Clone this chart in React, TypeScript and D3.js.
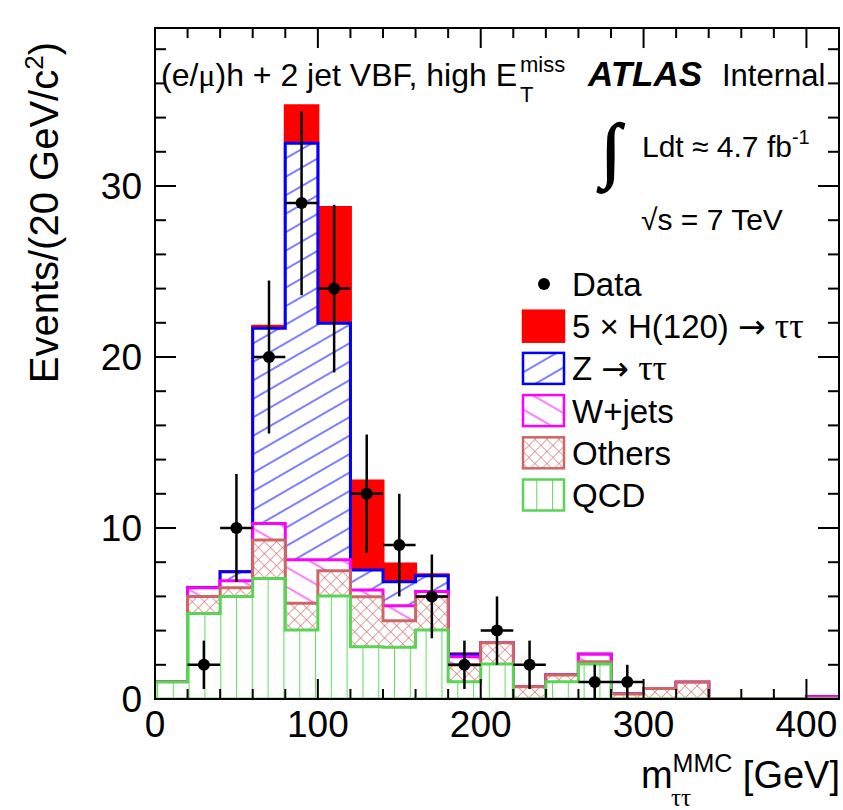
import React from 'react';
import * as d3 from 'd3';

// ---- data (20 GeV bins) ----
const BIN_LOW = [0, 20, 40, 60, 80, 100, 120, 140, 160, 180, 200, 220, 240, 260, 280, 300, 320, 340, 360, 380, 400];
const BIN_WIDTH = 20;
const QCD = [1.0, 5.0, 6.0, 7.05, 4.03, 6.02, 3.06, 3.02, 4.03, 1.01, 2.05, 0, 1.01, 2.05, 0, 0, 0, 0, 0, 0, 0];
const OTHERS = [0, 1.0, 0.5, 2.25, 1.57, 1.48, 2.92, 1.56, 1.95, 0.98, 1.24, 0.72, 0.39, 0.13, 0.29, 0.62, 0.98, 0, 0, 0, 0.05];
const WJETS = [0, 0.5, 0.42, 0.97, 2.55, 0.65, 0.39, 0.88, 0.3, 0.48, 0.01, 0, 0, 0.43, 0, 0, 0, 0, 0, 0, 0.08];
const ZTT = [0, 0, 0.52, 11.41, 24.35, 13.82, 1.17, 1.4, 0.93, 0.13, 0, 0, 0, 0, 0, 0, 0, 0, 0, 0, 0];
const HIGGS5 = [0, 0, 0, 0.12, 2.2, 6.78, 5.21, 1.04, 0.05, 0.05, 0, 0, 0, 0, 0, 0, 0, 0, 0, 0, 0];
const DATA = [0, 2, 10, 20, 29, 24, 12, 9, 6, 2, 4, 2, 0, 1, 1, 0, 0, 0, 0, 0, 0];
const X_MAJOR = [0, 100, 200, 300, 400];
const Y_MAJOR = [0, 10, 20, 30];

const W = 843, H = 810;
const FL = 155, FR = 839, FT = 28, FB = 699;
const x = d3.scaleLinear().domain([0, 420]).range([FL, FR]);
const y = d3.scaleLinear().domain([0, 39.24]).range([FB, FT]);

const SANS = "'Liberation Sans', Arial, Helvetica, sans-serif";
const SERIF = "'Liberation Serif', 'DejaVu Serif', serif";
const ARROW = "'DejaVu Sans', sans-serif";

function cumulative(layers: number[][]): number[] {
  return BIN_LOW.map((_, i) => layers.reduce((s, l) => s + l[i], 0));
}

const lineGen = d3.line<[number, number]>().x(d => x(d[0])).y(d => y(d[1]));
function histPath(vals: number[]): string {
  const pts: [number, number][] = [[BIN_LOW[0], 0]];
  BIN_LOW.forEach((lo, i) => {
    pts.push([lo, vals[i]]);
    pts.push([lo + BIN_WIDTH, vals[i]]);
  });
  pts.push([BIN_LOW[BIN_LOW.length - 1] + BIN_WIDTH, 0]);
  return lineGen(pts) + 'Z';
}

const layers = [
  { name: 'H', vals: cumulative([QCD, OTHERS, WJETS, ZTT, HIGGS5]), fill: '#ff0000', pattern: null, stroke: '#ff0000' },
  { name: 'Z', vals: cumulative([QCD, OTHERS, WJETS, ZTT]), fill: '#ffffff', pattern: 'url(#hatchZ)', stroke: '#0000ff' },
  { name: 'W', vals: cumulative([QCD, OTHERS, WJETS]), fill: '#ffffff', pattern: 'url(#hatchW)', stroke: '#ff00ff' },
  { name: 'O', vals: cumulative([QCD, OTHERS]), fill: '#ffffff', pattern: 'url(#hatchO)', stroke: '#cd6767' },
  { name: 'Q', vals: cumulative([QCD]), fill: '#ffffff', pattern: 'url(#hatchQ)', stroke: '#59d454' },
];

const legendItems = [
  { key: 'data', label: 'Data' },
  { key: 'H', label: 'H' },
  { key: 'Z', label: 'Z' },
  { key: 'W', label: 'W+jets' },
  { key: 'O', label: 'Others' },
  { key: 'Q', label: 'QCD' },
];

export default function App() {
  const xMinor = d3.range(0, 421, 20);
  const yMinor = d3.range(0, 39.2, 2);
  const legRow0 = 284, legStep = 42.2;
  return (
    <svg width={W} height={H} style={{ position: 'absolute', left: 0, top: 0, background: '#fff' }}
      fontFamily={SANS}>
      <defs>
        <pattern id="hatchZ" patternUnits="userSpaceOnUse" width={40} height={16} patternTransform="rotate(-30)">
          <line x1={0} y1={8} x2={40} y2={8} stroke="#0000ff" strokeWidth={1.2} />
        </pattern>
        <pattern id="hatchW" patternUnits="userSpaceOnUse" width={40} height={17} patternTransform="rotate(30)">
          <line x1={0} y1={8} x2={40} y2={8} stroke="#ff00ff" strokeWidth={1.2} />
        </pattern>
        <pattern id="hatchO" patternUnits="userSpaceOnUse" width={8.5} height={8.5} patternTransform="rotate(45)">
          <line x1={0} y1={0} x2={8.5} y2={0} stroke="#d46f6f" strokeWidth={1.3} />
          <line x1={0} y1={0} x2={0} y2={8.5} stroke="#d46f6f" strokeWidth={1.3} />
        </pattern>
        <pattern id="hatchQ" patternUnits="userSpaceOnUse" x={157} y={0} width={15.8} height={20}>
          <line x1={0.5} y1={0} x2={0.5} y2={20} stroke="#6edc6a" strokeWidth={1.2} />
        </pattern>
        <clipPath id="frameClip">
          <rect x={FL} y={FT} width={FR - FL} height={FB - FT} />
        </clipPath>
      </defs>

      <rect x={0} y={0} width={W} height={H} fill="#fff" />

      {/* stacked histograms */}
      <g clipPath="url(#frameClip)">
        {layers.map(l => {
          const d = histPath(l.vals);
          return (
            <g key={l.name}>
              <path d={d} fill={l.fill} />
              {l.pattern && <path d={d} fill={l.pattern} />}
              <path d={d} fill="none" stroke={l.stroke} strokeWidth={3} />
            </g>
          );
        })}
      </g>

      {/* data */}
      <g>
        {DATA.map((v, i) => {
          if (v <= 0) return null;
          const cx = x(BIN_LOW[i] + BIN_WIDTH / 2);
          const e = Math.sqrt(v);
          return (
            <g key={i}>
              <line x1={x(BIN_LOW[i])} x2={x(BIN_LOW[i] + BIN_WIDTH)} y1={y(v)} y2={y(v)} stroke="#000" strokeWidth={2.5} />
              <line x1={cx} x2={cx} y1={y(v + e)} y2={y(Math.max(0, v - e))} stroke="#000" strokeWidth={2.5} />
              <circle cx={cx} cy={y(v)} r={6} fill="#000" />
            </g>
          );
        })}
      </g>

      {/* frame and ticks */}
      <rect x={FL} y={FT} width={FR - FL} height={FB - FT} fill="none" stroke="#000" strokeWidth={2} />
      <g stroke="#000" strokeWidth={2}>
        {xMinor.map(t => {
          const len = t % 100 === 0 ? 20 : 10;
          return (
            <g key={'xt' + t}>
              <line x1={x(t)} x2={x(t)} y1={FB} y2={FB - len} />
              <line x1={x(t)} x2={x(t)} y1={FT} y2={FT + len} />
            </g>
          );
        })}
        {yMinor.map(t => {
          const len = Math.abs(t % 10) < 1e-6 ? 21 : 11;
          return (
            <g key={'yt' + t}>
              <line x1={FL} x2={FL + len} y1={y(t)} y2={y(t)} />
              <line x1={FR} x2={FR - len} y1={y(t)} y2={y(t)} />
            </g>
          );
        })}
      </g>

      {/* tick labels */}
      <g fontSize={37} fill="#000">
        {X_MAJOR.map(t => (
          <text key={'xl' + t} x={x(t)} y={737} textAnchor="middle">{t}</text>
        ))}
        {Y_MAJOR.map(t => (
          <text key={'yl' + t} x={142} y={y(t) + 13} textAnchor="end">{t}</text>
        ))}
      </g>

      {/* axis titles */}
      <text transform="translate(58,42) rotate(-90)" textAnchor="end" fontSize={40}>
        Events/(20 GeV/c<tspan fontSize={26} dy={-15}>2</tspan><tspan dy={15}>)</tspan>
      </text>
      <g>
        <text x={840} y={788} textAnchor="end" fontSize={38}>
          m<tspan fontSize={25} dy={-16}>MMC</tspan><tspan dy={16}> [GeV]</tspan>
        </text>
        <text x={671} y={806} fontSize={25} fontFamily={SERIF}>ττ</text>
      </g>

      {/* top labels */}
      <text x={161} y={86} fontSize={32}>
        (e/<tspan fontFamily={SERIF}>μ</tspan>)h + 2 jet VBF, high E
      </text>
      <text x={520} y={72} fontSize={22}>miss</text>
      <text x={520} y={102} fontSize={22}>T</text>
      <text x={588} y={86} fontSize={35} fontWeight="bold" fontStyle="italic">ATLAS</text>
      <text x={722} y={86} fontSize={31}>Internal</text>

      <text x={601} y={174} fontSize={72} fontFamily={SERIF} fontStyle="italic" stroke="#000" strokeWidth={1.6}>∫</text>
      <text x={642} y={157} fontSize={30}>
        Ldt ≈ 4.7 fb<tspan fontSize={20} dy={-13}>-1</tspan>
      </text>
      <text x={641} y={230} fontSize={30}>√s = 7 TeV</text>

      {/* legend */}
      <g>
        {legendItems.map((it, i) => {
          const cy = legRow0 + i * legStep;
          const bx = 523, bw = 41, bh = 31;
          let sym: React.ReactNode = null;
          if (it.key === 'data') {
            sym = <circle cx={544} cy={cy} r={6} fill="#000" />;
          } else {
            const l = layers.find(l => l.name === it.key)!;
            sym = (
              <g>
                <rect x={bx} y={cy - bh / 2} width={bw} height={bh} fill={l.fill} />
                {l.pattern && <rect x={bx} y={cy - bh / 2} width={bw} height={bh} fill={l.pattern} />}
                <rect x={bx} y={cy - bh / 2} width={bw} height={bh} fill="none" stroke={l.stroke} strokeWidth={2.5} />
              </g>
            );
          }
          let label: React.ReactNode = it.label;
          if (it.key === 'H') {
            label = (
              <>5 × H(120) <tspan fontFamily={ARROW}>→</tspan> <tspan fontFamily={SERIF} fontSize={36}>ττ</tspan></>
            );
          } else if (it.key === 'Z') {
            label = (
              <>Z <tspan fontFamily={ARROW}>→</tspan> <tspan fontFamily={SERIF} fontSize={36}>ττ</tspan></>
            );
          }
          return (
            <g key={it.key}>
              {sym}
              <text x={572} y={cy + 12} fontSize={33}>{label}</text>
            </g>
          );
        })}
      </g>
    </svg>
  );
}
